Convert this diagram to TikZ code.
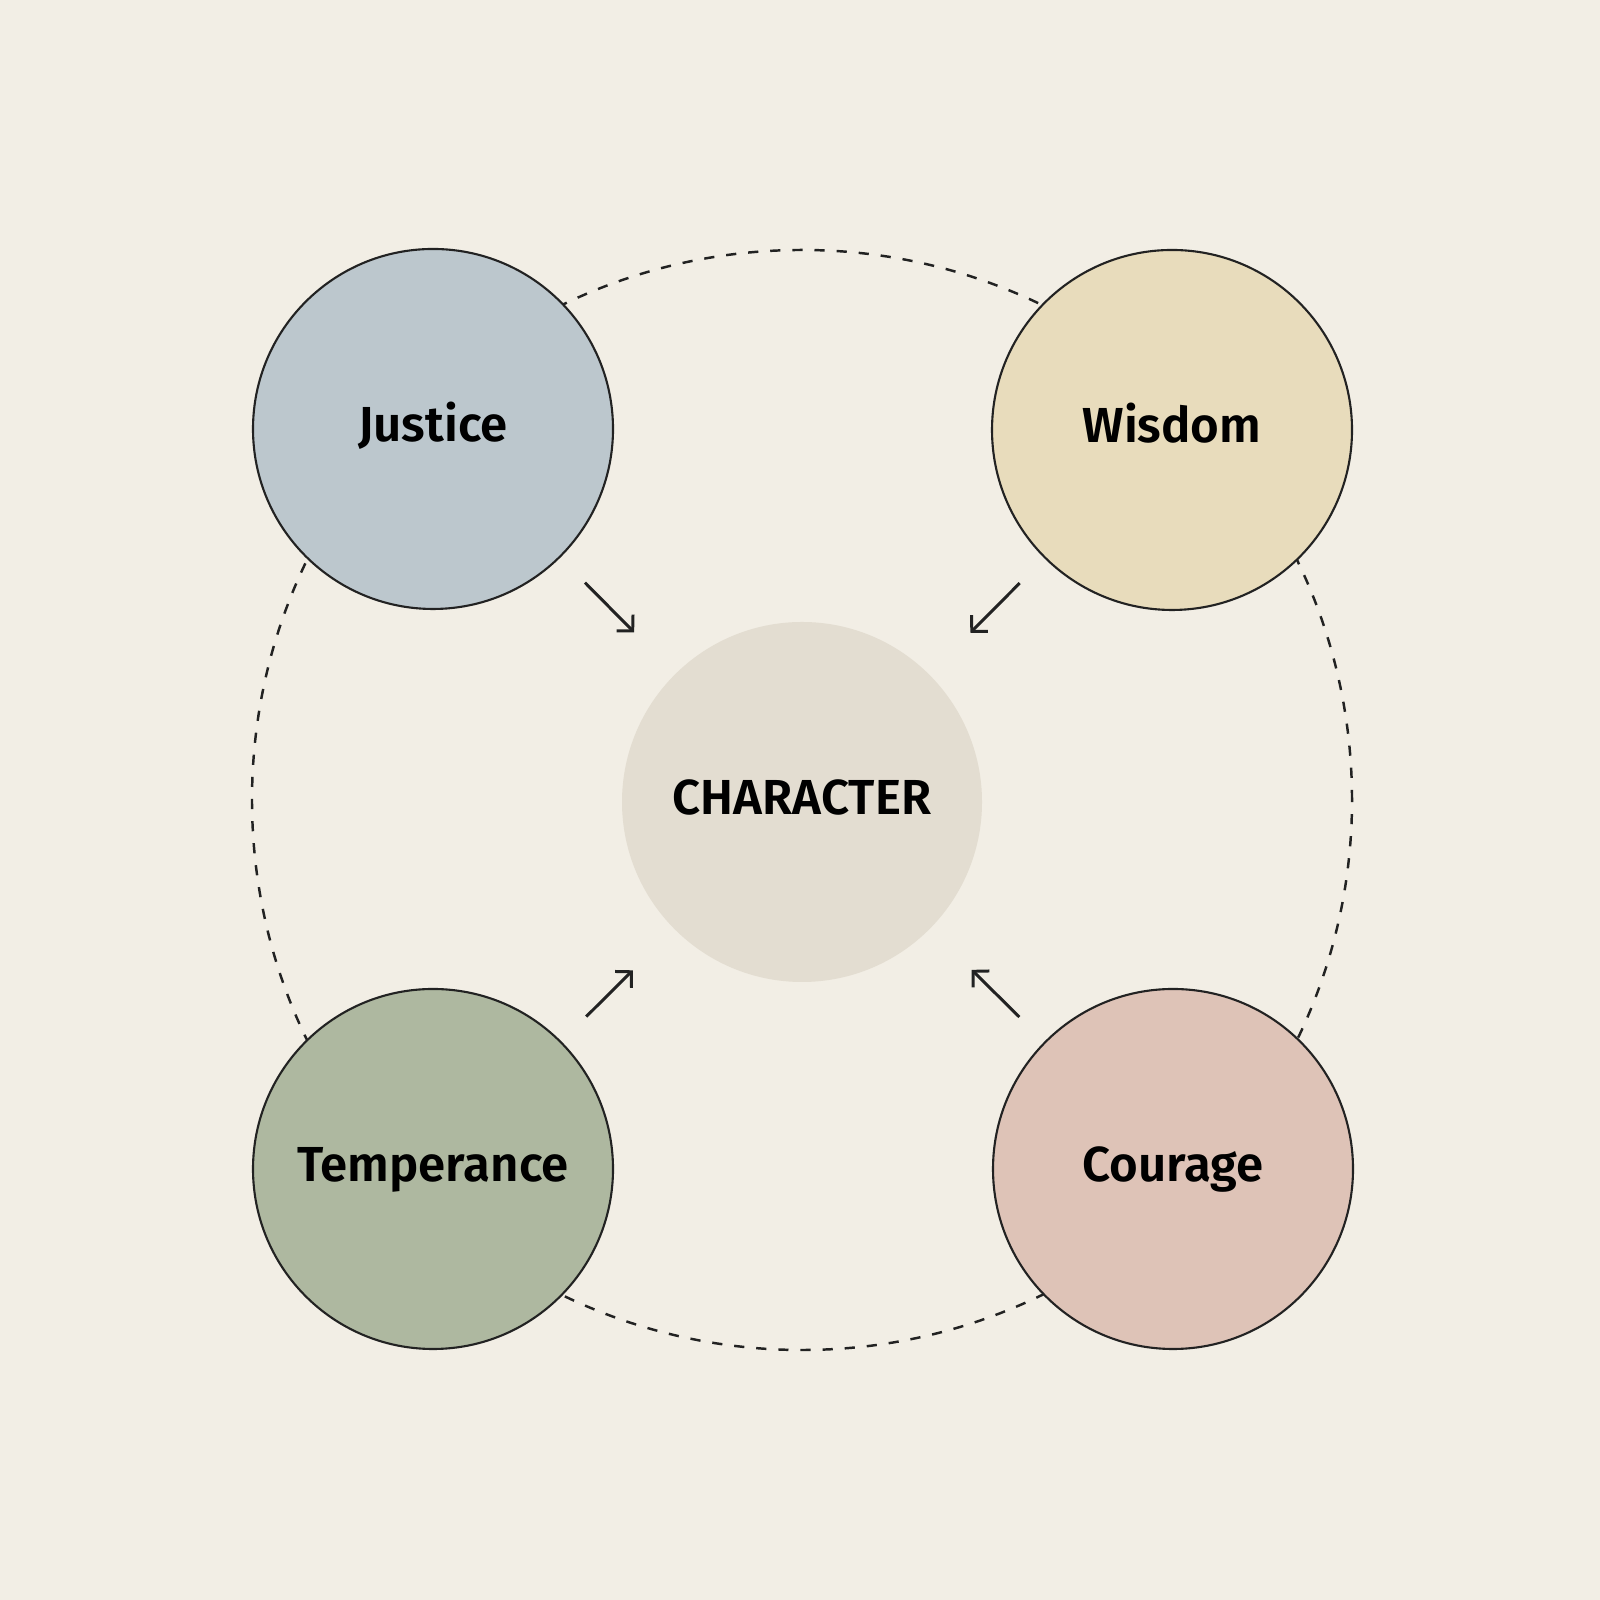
\documentclass[tikz,border=0pt]{standalone}
\usepackage{fontspec}
\setmainfont{Fira Sans}[BoldFont={Fira Sans SemiBold}]
\usetikzlibrary{positioning, arrows.meta}

\begin{document}
\begin{tikzpicture}

% Define colors for each virtue
\definecolor{fondo}{HTML}{F2EEE5}
\definecolor{justicia}{HTML}{BCC7CD}
\definecolor{sabiduria}{HTML}{E8DCBC}
\definecolor{templanza}{HTML}{AEB8A0}
\definecolor{coraje}{HTML}{DEC3B7}
\definecolor{caracter}{HTML}{E3DDD1}
\definecolor{tinta}{HTML}{222222}

\tikzset{
  rotulo/.style={font=\fontsize{14}{16}\selectfont\bfseries, text height=0.69em, text depth=0pt},
  virtud/.style={circle, draw=tinta, line width=0.6pt, minimum size=3.6cm, inner sep=0pt, rotulo},
  flecha/.style={draw=tinta, line width=0.85pt, -{Straight Barb[length=3.2pt,width=6.6pt]}, miter limit=10, shorten <=0.35cm, shorten >=0.58cm}
}

% Background and size of the page
\fill[fondo] (0,0) rectangle (16,16);
\useasboundingbox (0,0) rectangle (16,16);

% Dashed ring joining the four virtues
\draw[tinta, line width=0.7pt, dash pattern=on 2.9pt off 3.4pt] (8.02,8.0) circle (5.5);

% Center node
\node[circle, fill=caracter, minimum size=3.6cm, inner sep=0pt, rotulo] (caracter) at (8.02,7.98) {CHARACTER};

% The four virtues
\node[virtud, fill=justicia] (justicia) at (4.33,11.71) {Justice};
\node[virtud, fill=sabiduria] (sabiduria) at (11.72,11.70) {Wisdom};
\node[virtud, fill=templanza] (templanza) at (4.33,4.31) {Temperance};
\node[virtud, fill=coraje] (coraje) at (11.73,4.31) {Courage};

% Arrows into the center
\draw[flecha] (justicia) -- (caracter);
\draw[flecha] (sabiduria) -- (caracter);
\draw[flecha] (templanza) -- (caracter);
\draw[flecha] (coraje) -- (caracter);

\end{tikzpicture}
\end{document}
